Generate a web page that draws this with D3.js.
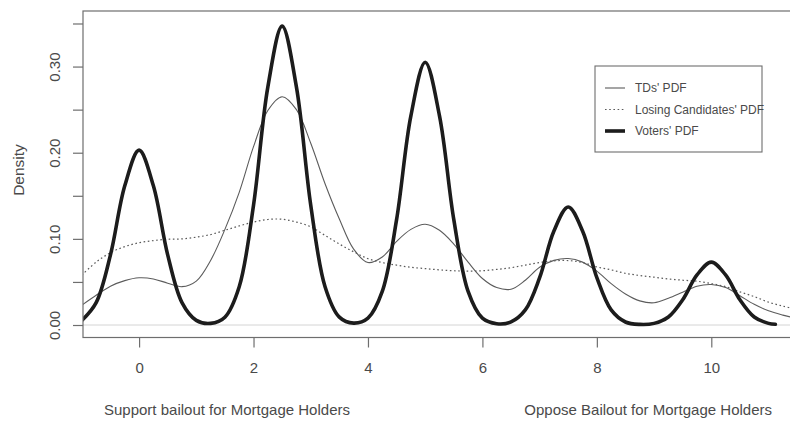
<!DOCTYPE html>
<html>
<head>
<meta charset="utf-8">
<script src="https://cdn.jsdelivr.net/npm/d3@7/dist/d3.min.js"></script>
<style>
  html, body { margin: 0; padding: 0; background: #ffffff; }
  svg { display: block; font-family: "Liberation Sans", Arial, Helvetica, sans-serif; }
</style>
</head>
<body>
<script>
// Estimated densities sampled along the policy scale (0 = support, 10 = oppose)
const gridX = [-1, -0.75, -0.5, -0.25, 0, 0.25, 0.5, 0.75, 1, 1.25, 1.5, 1.75, 2, 2.25, 2.5, 2.75,
  3, 3.25, 3.5, 3.75, 4, 4.25, 4.5, 4.75, 5, 5.25, 5.5, 5.75, 6, 6.25, 6.5, 6.75, 7, 7.25, 7.5, 7.75,
  8, 8.25, 8.5, 8.75, 9, 9.25, 9.5, 9.75, 10, 10.25, 10.5, 10.75, 11, 11.25, 11.5];

const tdsDensity = [0.023, 0.0345, 0.045, 0.0515, 0.0548, 0.0535, 0.0485, 0.0445, 0.051, 0.075, 0.111, 0.154,
  0.207, 0.249, 0.265, 0.250, 0.211, 0.164, 0.123, 0.088, 0.0725, 0.079, 0.097, 0.111, 0.117, 0.110, 0.094,
  0.073, 0.054, 0.0435, 0.0415, 0.052, 0.067, 0.075, 0.0772, 0.073, 0.0625, 0.048, 0.036, 0.028, 0.0258,
  0.031, 0.038, 0.045, 0.047, 0.0435, 0.034, 0.024, 0.0165, 0.0115, 0.0075];

const losingDensity = [0.058, 0.073, 0.084, 0.091, 0.0955, 0.098, 0.0995, 0.100, 0.102, 0.105, 0.110, 0.115,
  0.1195, 0.1225, 0.1228, 0.1195, 0.114, 0.104, 0.094, 0.085, 0.077, 0.0725, 0.0695, 0.067, 0.0655, 0.064,
  0.063, 0.0625, 0.063, 0.0645, 0.0665, 0.0695, 0.0725, 0.0745, 0.0748, 0.0725, 0.0675, 0.064, 0.060,
  0.0575, 0.0555, 0.0535, 0.052, 0.0508, 0.048, 0.0445, 0.0385, 0.033, 0.0265, 0.022, 0.018];

const votersX = [-1, -0.75, -0.5, -0.25, 0, 0.25, 0.5, 0.75, 1, 1.25, 1.5, 1.75, 2, 2.25, 2.5, 2.75,
  3, 3.25, 3.5, 3.75, 4, 4.25, 4.5, 4.75, 5, 5.25, 5.5, 5.75, 6, 6.25, 6.5, 6.75, 7, 7.25, 7.5, 7.75,
  8, 8.25, 8.5, 8.75, 9, 9.25, 9.5, 9.75, 10, 10.25, 10.5, 10.75, 11, 11.12];

const votersDensity = [0.0053, 0.026, 0.0814, 0.1616, 0.203, 0.1616, 0.0814, 0.026, 0.0054, 0.0019, 0.0091,
  0.0444, 0.1391, 0.2762, 0.347, 0.2762, 0.1391, 0.0444, 0.0091, 0.0022, 0.008, 0.039, 0.1223, 0.2428,
  0.305, 0.2428, 0.1223, 0.039, 0.0079, 0.0015, 0.0036, 0.0175, 0.0549, 0.1091, 0.137, 0.1091, 0.0549,
  0.0175, 0.0035, 0.0007, 0.0019, 0.0093, 0.0293, 0.0581, 0.073, 0.0581, 0.0293, 0.0093, 0.0019, 0.0008];

const xTicks = [0, 2, 4, 6, 8, 10];
const yTicks = [0, 0.05, 0.10, 0.15, 0.20, 0.25, 0.30, 0.35];
const yTickLabels = ["0.00", "", "0.10", "", "0.20", "", "0.30", ""];

const legendLabels = ["TDs' PDF", "Losing Candidates' PDF", "Voters' PDF"];
const leftCaption = "Support bailout for Mortgage Holders";
const rightCaption = "Oppose Bailout for Mortgage Holders";
const yTitle = "Density";

// Layout
const W = 790, H = 421;
const plot = { left: 83, top: 11, right: 804, bottom: 337.5 };

const svg = d3.select("body").append("svg").attr("width", W).attr("height", H);

const x = d3.scaleLinear().domain([-0.98, 11.62]).range([plot.left, plot.right]);
const y = d3.scaleLinear().domain([-0.0145, 0.3645]).range([plot.bottom, plot.top]);

const ink = "#4a4a4a";

svg.append("defs").append("clipPath").attr("id", "plotClip")
  .append("rect")
  .attr("x", plot.left).attr("y", plot.top)
  .attr("width", plot.right - plot.left).attr("height", plot.bottom - plot.top);

// zero reference line
svg.append("line")
  .attr("x1", plot.left).attr("x2", plot.right)
  .attr("y1", y(0)).attr("y2", y(0))
  .attr("stroke", "#d4d4d4").attr("stroke-width", 1);

// Curves
const line = d3.line()
  .x(d => x(d[0]))
  .y(d => y(d[1]))
  .curve(d3.curveCatmullRom.alpha(0.5));

const curves = svg.append("g").attr("clip-path", "url(#plotClip)");

curves.append("path")
  .datum(gridX.map((v, i) => [v, losingDensity[i]]))
  .attr("d", line)
  .attr("fill", "none")
  .attr("stroke", "#5a5a5a")
  .attr("stroke-width", 1.2)
  .attr("stroke-dasharray", "1.6,2.6");

curves.append("path")
  .datum(gridX.map((v, i) => [v, tdsDensity[i]]))
  .attr("d", line)
  .attr("fill", "none")
  .attr("stroke", "#5c5c5c")
  .attr("stroke-width", 1.1);

curves.append("path")
  .datum(votersX.map((v, i) => [v, votersDensity[i]]))
  .attr("d", line)
  .attr("fill", "none")
  .attr("stroke", "#1c1c1c")
  .attr("stroke-width", 3.6)
  .attr("stroke-linejoin", "round")
  .attr("stroke-linecap", "round");

// Frame
svg.append("rect")
  .attr("x", plot.left).attr("y", plot.top)
  .attr("width", plot.right - plot.left).attr("height", plot.bottom - plot.top)
  .attr("fill", "none").attr("stroke", "#6e6e6e").attr("stroke-width", 1.2);

// Axes
const xAxis = svg.append("g")
  .attr("transform", `translate(0,${plot.bottom})`)
  .call(d3.axisBottom(x).tickValues(xTicks).tickSize(10).tickPadding(15).tickFormat(d3.format("d")));
xAxis.select(".domain").remove();
xAxis.selectAll(".tick line").attr("stroke", "#6e6e6e").attr("stroke-width", 1.2);
xAxis.selectAll(".tick text")
  .attr("fill", ink).attr("font-size", 15)
  .attr("font-family", "'Liberation Sans', Arial, sans-serif");

const yAxis = svg.append("g")
  .attr("transform", `translate(${plot.left},0)`)
  .call(d3.axisLeft(y).tickValues(yTicks).tickSize(10).tickFormat((d, i) => yTickLabels[i]));
yAxis.select(".domain").remove();
yAxis.selectAll(".tick line").attr("stroke", "#6e6e6e").attr("stroke-width", 1.2);
yAxis.selectAll(".tick text")
  .attr("x", null).attr("dy", "0.36em")
  .attr("transform", "translate(-28,0) rotate(-90)")
  .attr("text-anchor", "middle")
  .attr("fill", ink).attr("font-size", 15)
  .attr("font-family", "'Liberation Sans', Arial, sans-serif");

// Axis titles
svg.append("text")
  .attr("transform", "translate(18,170) rotate(-90)")
  .attr("dy", "0.36em")
  .attr("text-anchor", "middle")
  .attr("fill", ink).attr("font-size", 15.5)
  .text(yTitle);

svg.append("text")
  .attr("x", 104).attr("y", 415)
  .attr("text-anchor", "start")
  .attr("fill", ink).attr("font-size", 15)
  .text(leftCaption);

svg.append("text")
  .attr("x", 772).attr("y", 415)
  .attr("text-anchor", "end")
  .attr("fill", ink).attr("font-size", 15)
  .text(rightCaption);

// Legend
const legend = svg.append("g");
legend.append("rect")
  .attr("x", 595).attr("y", 66).attr("width", 167).attr("height", 86)
  .attr("fill", "#ffffff").attr("stroke", "#6e6e6e").attr("stroke-width", 1.1);

const legendStyles = [
  { stroke: "#5c5c5c", width: 1.1, dash: null },
  { stroke: "#5a5a5a", width: 1.2, dash: "1.6,2.6" },
  { stroke: "#1c1c1c", width: 3.6, dash: null }
];
const legendRowY = d3.scalePoint().domain(legendLabels).range([88, 131]);

legendLabels.forEach((label, i) => {
  const ly = legendRowY(label);
  legend.append("line")
    .attr("x1", 605).attr("x2", 625).attr("y1", ly).attr("y2", ly)
    .attr("stroke", legendStyles[i].stroke)
    .attr("stroke-width", legendStyles[i].width)
    .attr("stroke-dasharray", legendStyles[i].dash);
  legend.append("text")
    .attr("x", 635).attr("y", ly).attr("dy", "0.35em")
    .attr("fill", ink).attr("font-size", 12)
    .text(label);
});
</script>
</body>
</html>
